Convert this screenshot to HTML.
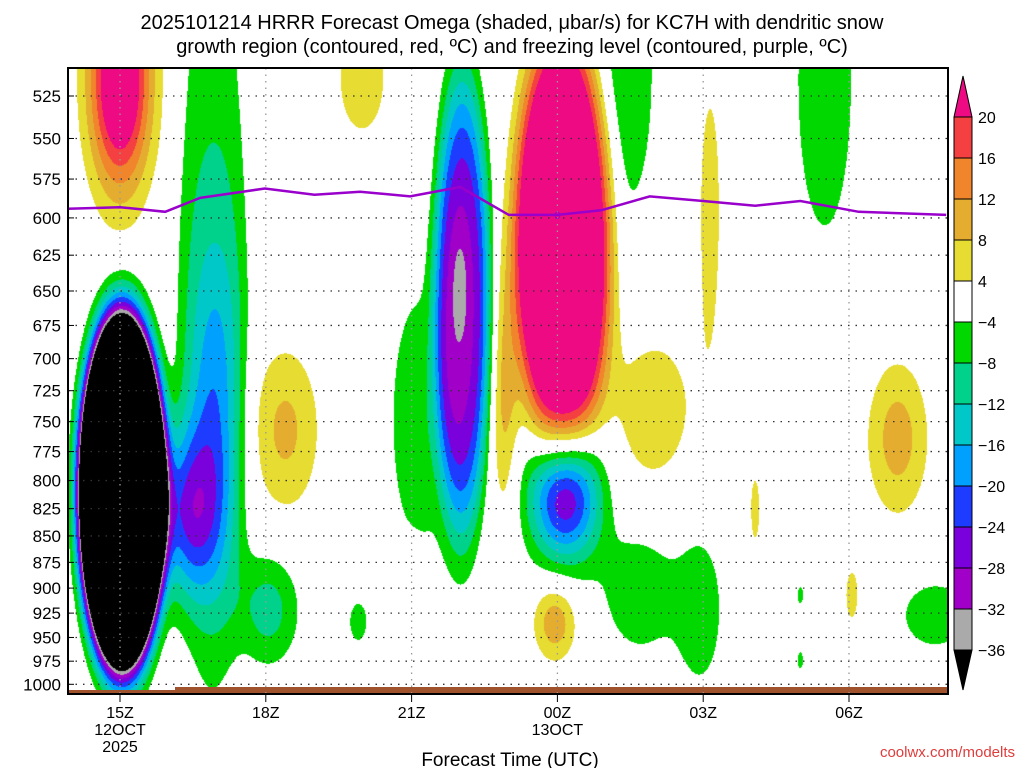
<!DOCTYPE html>
<html><head><meta charset="utf-8">
<style>
html,body{margin:0;padding:0;background:#fff;}
#wrap{position:relative;width:1024px;height:768px;overflow:hidden;font-family:"Liberation Sans",sans-serif;}
canvas{position:absolute;left:68px;top:68px;}
svg{position:absolute;left:0;top:0;}
</style></head>
<body>
<div id="wrap">
<canvas id="cv" width="880" height="626"></canvas>
<svg id="sv" width="1024" height="768"></svg>
</div>
<script>
// ---- data ----
const pressureTicks = [525,550,575,600,625,650,675,700,725,750,775,800,825,850,875,900,925,950,975,1000];
const timeTicks = [15,18,21,24,27,30];
const timeTickLabels = ["15Z","18Z","21Z","00Z","03Z","06Z"];
const dateLabels = {15:["12OCT","2025"],24:["13OCT"]};
const levelBounds = [20,16,12,8,4,-4,-8,-12,-16,-20,-24,-28,-32,-36];
const levelColors = ["#ee0a82","#f44040","#f0852c","#e5ad30","#e6dc32","#ffffff","#00d800","#00d28c","#00c8c8","#00a0ff","#1e3cff","#7a00dc","#a000c8","#aaaaaa","#000000"];
// omega features (time in hours from 00Z 12 Oct, pressure hPa, amplitude microbar/s)
const blobTime = [15.04,16.35,16.95,16.9,18.05,22.04,22.0,21.17,24.16,25.7,26.93,25.4,29.5,31.77,19.9,29.0,29.0,
                  15.0,24.1,25.9,22.92,19.98,18.4,27.14,31.0,28.07,20.97,30.06,23.95];
const blobPres = [810,830,732,656,921,660,649,749,813,902,921,510,516,927,934,907,974,
                  517,615,740,732,516,757,593,764,826,893,907,934];
const blobAmp  = [-150,-20,-12,-7,-10,-28,-6,-7,-30,-8,-7,-7,-7,-8,-5.5,-5,-5,
                  30,40,6,9,7,9,6,10,5.5,5.5,5.5,11];
const blobSigT = [0.68,0.5,0.37,0.62,0.45,0.49,0.12,0.51,0.51,0.55,0.37,0.51,0.51,0.51,0.2,0.08,0.08,
                  0.44,0.82,0.82,0.2,0.41,0.51,0.2,0.45,0.1,0.19,0.14,0.31];
const blobSigP = [0.151,0.066,0.13,0.38,0.044,0.214,0.044,0.12,0.049,0.05,0.066,0.14,0.15,0.027,0.024,0.013,0.013,
                  0.082,0.193,0.08,0.1,0.05,0.066,0.12,0.06,0.038,0.024,0.03,0.03];
const blobShape = [2,1,1,2,1,2,1,1,1,1,1,1,1,1,1,1,1, 1,2,1,1,1,1,1,1,1,1,1,1];
// freezing level
const frzTime = [13.93,15,15.93,16.65,17.98,19.0,19.94,20.97,22.0,23.0,24.0,24.9,25.9,27.0,28.07,29.0,30.2,32.0];
const frzPres = [594,593,596,587,581,585,583,586,580,598,598,595,586,589,592,589,596,598];

// ---- axes ----
const X0=68, X1=948, Y0=68, Y1=694;
const xOf = t => 120 + 48.6*(t-15);
const yOf = p => 96 + 913*Math.log(p/525);
const tOf = x => 15 + (x-120)/48.6;

// ---- shading ----
const cv=document.getElementById('cv'), ctx=cv.getContext('2d');
const W=880,H=626, img=ctx.createImageData(W,H);
const rgb=levelColors.map(c=>[parseInt(c.substr(1,2),16),parseInt(c.substr(3,2),16),parseInt(c.substr(5,2),16)]);
const lnBP=blobPres.map(p=>Math.log(p));
for(let j=0;j<H;j++){
  const y=Y0+j+0.5, lnp=Math.log(525)+(y-96)/913;
  for(let i=0;i<W;i++){
    const t=tOf(X0+i+0.5);
    let v=0;
    for(let b=0;b<blobAmp.length;b++){
      const dt=(t-blobTime[b])/blobSigT[b], dl=(lnp-lnBP[b])/blobSigP[b];
      const r2=dt*dt+dl*dl;
      if(r2>60) continue;
      v+=blobAmp[b]*Math.exp(-0.5*Math.pow(r2,blobShape[b]));
    }
    let k=0; while(k<levelBounds.length && v<levelBounds[k]) k++;
    const c=rgb[k], o=(j*W+i)*4;
    img.data[o]=c[0];img.data[o+1]=c[1];img.data[o+2]=c[2];img.data[o+3]=255;
  }
}
ctx.putImageData(img,0,0);

// ---- overlay ----
const NS='http://www.w3.org/2000/svg', sv=document.getElementById('sv');
function mk(tag,attrs,parent){const e=document.createElementNS(NS,tag);for(const k in attrs)e.setAttribute(k,attrs[k]);(parent||sv).appendChild(e);return e;}

// surface bar
let e=mk('rect',{x:X0,y:690,width:107,height:4,fill:'#a0522d'});


e=mk('rect',{x:175,y:687,width:773,height:7,fill:'#a0522d'});



// grid
pressureTicks.forEach(p=>{
  const y=yOf(p);
  let g=mk('line',{x1:X0,x2:X1,y1:y,y2:y,stroke:'#333','stroke-width':1.3,'stroke-dasharray':'1.5,6'});
  
  
  let tk=mk('line',{x1:X0,x2:X0+6,y1:y,y2:y,stroke:'#000','stroke-width':1});
  
  
  let tx=mk('text',{x:61,y:y+6,'text-anchor':'end','font-size':17,fill:'#000'});
  tx.textContent=p;
  
  
});
timeTicks.forEach((t,i)=>{
  const x=xOf(t);
  let g=mk('line',{x1:x,x2:x,y1:Y0,y2:Y1,stroke:'#999','stroke-width':1.3,'stroke-dasharray':'1.5,5'});
  
  
  let tk=mk('line',{x1:x,x2:x,y1:Y1,y2:Y1+8,stroke:'#000','stroke-width':1});
  
  
  let tx=mk('text',{x:x,y:718,'text-anchor':'middle','font-size':16});
  tx.textContent=timeTickLabels[i];
  
  
  (dateLabels[t]||[]).forEach((s,k)=>{
    let d=mk('text',{x:x,y:735+k*17,'text-anchor':'middle','font-size':16});
    d.textContent=s;
    
    
  });
});

// freezing line
let dpath='';
frzTime.forEach((t,i)=>{dpath+=(i?'L':'M')+xOf(t).toFixed(1)+','+yOf(frzPres[i]).toFixed(1);});
e=mk('path',{d:dpath,fill:'none',stroke:'#9900cc','stroke-width':2.5});


e=mk('text',{x:xOf(24),y:yOf(598)+4,'text-anchor':'middle','font-size':11,fill:'#9900cc'});
e.textContent='0';



// frame
e=mk('rect',{x:X0,y:Y0,width:X1-X0,height:Y1-Y0,fill:'none',stroke:'#000','stroke-width':2});



// colorbar
const cbX=954, cbW=18, cbTop=117, cbStep=41;
e=mk('polygon',{points:`${cbX},${cbTop} ${cbX+cbW},${cbTop} ${cbX+cbW/2},76`,fill:levelColors[0],stroke:'#000','stroke-width':1});


for(let k=1;k<levelBounds.length;k++){
  let r=mk('rect',{x:cbX,y:cbTop+(k-1)*cbStep,width:cbW,height:cbStep,fill:levelColors[k],stroke:'#000','stroke-width':1});
  
  
}
const cbBot=cbTop+(levelBounds.length-1)*cbStep;
e=mk('polygon',{points:`${cbX},${cbBot} ${cbX+cbW},${cbBot} ${cbX+cbW/2},690`,fill:'#000',stroke:'#000','stroke-width':1});


levelBounds.forEach((v,k)=>{
  let t=mk('text',{x:978,y:cbTop+k*cbStep+6,'font-size':16});
  t.textContent=v<0?'\u2212'+(-v):String(v);
  
  
});
</script>
<svg width="1024" height="768" style="position:absolute;left:0;top:0;pointer-events:none">
<text x="512" y="29" text-anchor="middle" font-size="20" font-family="Liberation Sans, sans-serif">2025101214 HRRR Forecast Omega (shaded, μbar/s) for KC7H with dendritic snow</text>
<text x="512" y="53" text-anchor="middle" font-size="20" font-family="Liberation Sans, sans-serif">growth region (contoured, red, ºC) and freezing level (contoured, purple, ºC)</text>
<text x="510" y="766" text-anchor="middle" font-size="19" font-family="Liberation Sans, sans-serif">Forecast Time (UTC)</text>
<text x="1015" y="757" text-anchor="end" font-size="15" fill="#e03c3c" font-family="Liberation Sans, sans-serif">coolwx.com/modelts</text>
</svg>
</body></html>
